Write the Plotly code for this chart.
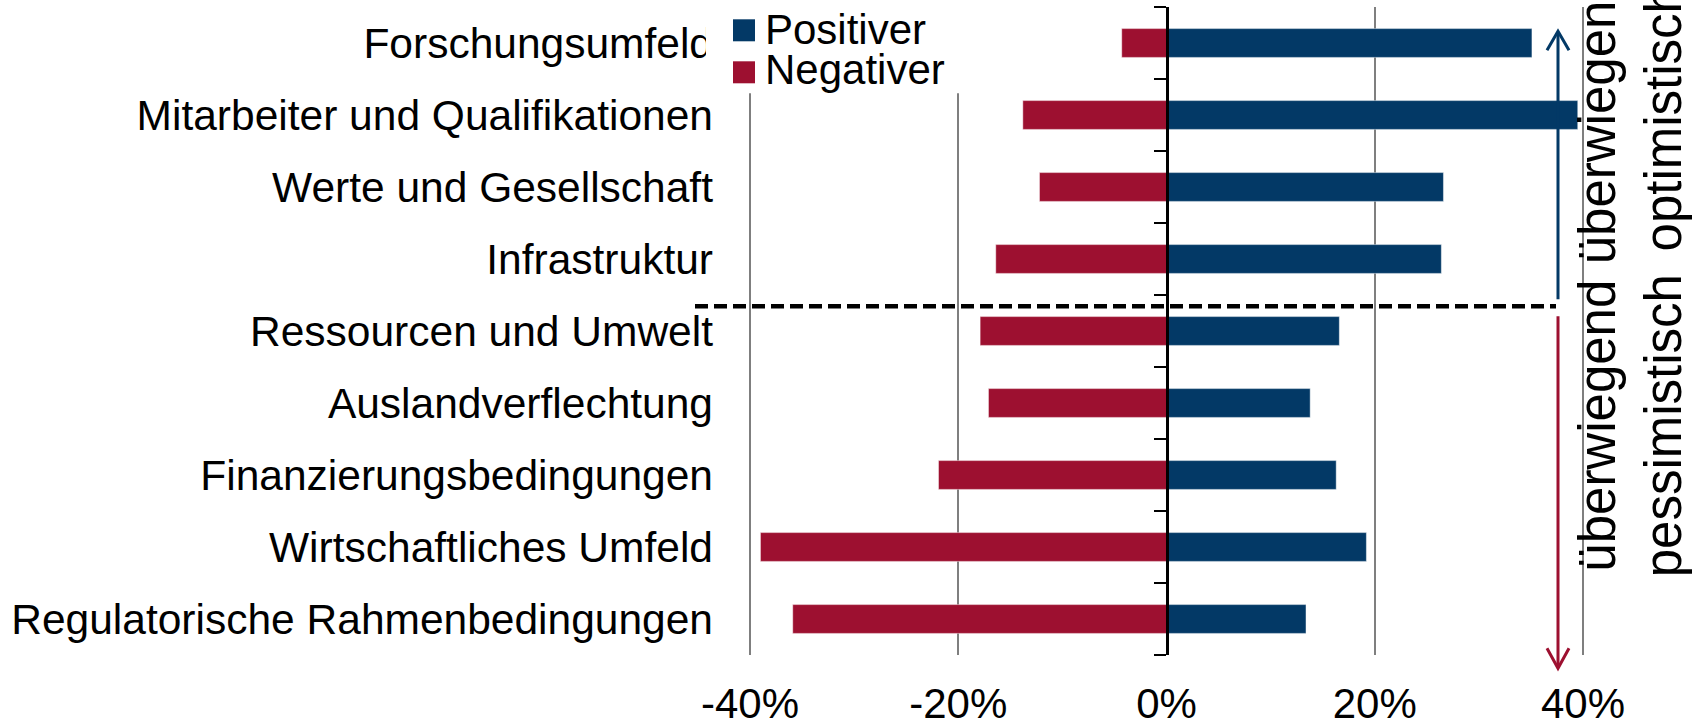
import plotly.graph_objects as go

# ---------------- data ----------------
categories = [
    "Forschungsumfeld",
    "Mitarbeiter und Qualifikationen",
    "Werte und Gesellschaft",
    "Infrastruktur",
    "Ressourcen und Umwelt",
    "Auslandverflechtung",
    "Finanzierungsbedingungen",
    "Wirtschaftliches Umfeld",
    "Regulatorische Rahmenbedingungen",
]
positiver = [0.351, 0.395, 0.266, 0.264, 0.166, 0.138, 0.163, 0.192, 0.134]
negativer = [-0.043, -0.138, -0.122, -0.164, -0.179, -0.171, -0.219, -0.390, -0.359]

x_tickvals = [-0.4, -0.2, 0.0, 0.2, 0.4]
x_ticktext = ["-40%", "-20%", "0%", "20%", "40%"]

legend_labels = ["Positiver", "Negativer"]
side_text_top = "überwiegend<br>optimistisch"
side_text_bottom = "überwiegend<br>pessimistisch"

# ---------------- style ----------------
BLUE = "#033966"
RED = "#9D1030"
FONT = "Liberation Sans, Arial, sans-serif"

W, H = 1694, 725
L, R, T, B = 749, 1584, 6.7, 654.7  # plot area in pixels
XR = 0.401


def px(x):
    return (x - L) / (R - L)


def py(y):
    return (B - y) / (B - T)


fig = go.Figure()
fig.add_trace(go.Bar(
    y=categories, x=positiver, orientation="h", name=legend_labels[0],
    marker=dict(color=BLUE, line=dict(width=1, color="rgba(255,255,255,0.45)")),
    width=0.4, showlegend=False, hoverinfo="skip",
))
fig.add_trace(go.Bar(
    y=categories, x=negativer, orientation="h", name=legend_labels[1],
    marker=dict(color=RED, line=dict(width=1, color="rgba(255,255,255,0.45)")),
    width=0.4, showlegend=False, hoverinfo="skip",
))
# invisible helper so that the centre axis (yaxis2) is drawn
fig.add_trace(go.Scatter(x=[0], y=[0], yaxis="y2", mode="markers",
                         marker=dict(opacity=0, size=1), hoverinfo="skip",
                         showlegend=False))

n = len(categories)
boundaries = [i - 0.5 for i in range(n + 1)]

fig.update_layout(
    width=W, height=H,
    margin=dict(l=L, r=W - R, t=T, b=H - B, pad=0, autoexpand=False),
    paper_bgcolor="white", plot_bgcolor="white",
    barmode="relative",
    showlegend=False,
    font=dict(family=FONT, color="black", size=42),
    xaxis=dict(
        range=[-XR, XR], tickvals=x_tickvals, ticktext=x_ticktext,
        showgrid=True, gridcolor="#7f7f7f", gridwidth=1.5,
        zeroline=False, showline=False, ticks="",
        tickfont=dict(size=42, family=FONT, color="black"),
        ticklabelstandoff=20, automargin=False, fixedrange=True,
    ),
    yaxis=dict(
        type="category", categoryorder="array", categoryarray=categories[::-1],
        range=[-0.5, n - 0.5], showgrid=False, zeroline=False, showline=False,
        ticks="", tickfont=dict(size=42.5, family=FONT, color="black"),
        ticklabelstandoff=35, automargin=False, fixedrange=True,
    ),
    yaxis2=dict(
        overlaying="y", anchor="free", position=0.5, side="left",
        range=[-0.5, n - 0.5], tickvals=boundaries,
        ticks="outside", ticklen=12, tickwidth=2, tickcolor="black",
        showline=True, linecolor="black", linewidth=2.5,
        showticklabels=False, showgrid=False, zeroline=False, fixedrange=True,
    ),
)

shapes = []
# legend background (covers the end of the first label, as in the reference)
shapes.append(dict(type="rect", xref="paper", yref="paper",
                   x0=px(706), x1=px(1000), y0=py(93), y1=py(-10),
                   fillcolor="white", line=dict(width=0), layer="above"))
# legend squares
shapes.append(dict(type="rect", xref="paper", yref="paper",
                   x0=px(733), x1=px(755), y0=py(41), y1=py(19),
                   fillcolor=BLUE, line=dict(width=0), layer="above"))
shapes.append(dict(type="rect", xref="paper", yref="paper",
                   x0=px(733), x1=px(755), y0=py(83), y1=py(61),
                   fillcolor=RED, line=dict(width=0), layer="above"))
# dashed separator
shapes.append(dict(type="line", xref="paper", yref="paper",
                   x0=px(695), x1=px(1556), y0=py(306), y1=py(306),
                   line=dict(color="black", width=4.5, dash="13px,6px"), layer="above"))
# arrows
AX = 1558
shapes.append(dict(type="line", xref="paper", yref="paper",
                   x0=px(AX), x1=px(AX), y0=py(299), y1=py(32),
                   line=dict(color=BLUE, width=3), layer="above"))
shapes.append(dict(type="path", xref="paper", yref="paper",
                   path=f"M {px(AX-11)},{py(50)} L {px(AX)},{py(31)} L {px(AX+11)},{py(50)}",
                   line=dict(color=BLUE, width=3), layer="above"))
shapes.append(dict(type="line", xref="paper", yref="paper",
                   x0=px(AX), x1=px(AX), y0=py(316), y1=py(667),
                   line=dict(color=RED, width=3), layer="above"))
shapes.append(dict(type="path", xref="paper", yref="paper",
                   path=f"M {px(AX-11)},{py(648)} L {px(AX)},{py(668)} L {px(AX+11)},{py(648)}",
                   line=dict(color=RED, width=3), layer="above"))
fig.update_layout(shapes=shapes)

annotations = [
    dict(text=legend_labels[0], xref="paper", yref="paper", x=px(763), y=py(29),
         xanchor="left", yanchor="middle", showarrow=False,
         font=dict(size=42, family=FONT, color="black")),
    dict(text=legend_labels[1], xref="paper", yref="paper", x=px(763), y=py(69),
         xanchor="left", yanchor="middle", showarrow=False,
         font=dict(size=42, family=FONT, color="black")),
    dict(text=side_text_bottom, xref="paper", yref="paper", x=px(1630), y=py(426),
         xanchor="center", yanchor="middle", showarrow=False, textangle=-90,
         align="center", font=dict(size=51, family=FONT, color="black")),
    dict(text=side_text_top, xref="paper", yref="paper", x=px(1630), y=py(118),
         xanchor="center", yanchor="middle", showarrow=False, textangle=-90,
         align="center", font=dict(size=51, family=FONT, color="black")),
]
fig.update_layout(annotations=annotations)

fig.write_html("out.html", config={"displayModeBar": False},
               post_script="document.body.style.margin='0px';")
